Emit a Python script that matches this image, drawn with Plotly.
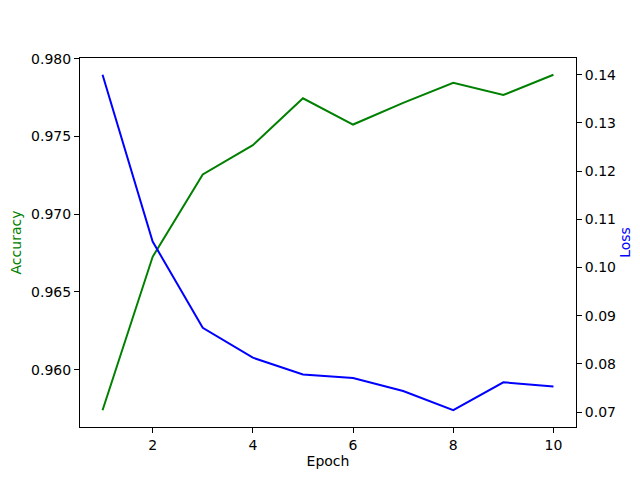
import plotly.graph_objects as go

epochs = [1, 2, 3, 4, 5, 6, 7, 8, 9, 10]
accuracy = [0.95739, 0.96726, 0.97256, 0.97444, 0.97746,
            0.97577, 0.97716, 0.97846, 0.97767, 0.97897]
loss = [0.1400, 0.1054, 0.0875, 0.0813, 0.0778,
        0.0771, 0.0744, 0.0704, 0.0762, 0.0753]

font = dict(family="DejaVu Sans", size=14, color="black")

fig = go.Figure()
fig.add_trace(go.Scatter(x=epochs, y=accuracy, mode="lines",
                         line=dict(color="green", width=2), yaxis="y"))
fig.add_trace(go.Scatter(x=epochs, y=loss, mode="lines",
                         line=dict(color="blue", width=2), yaxis="y2"))

axis_common = dict(showgrid=False, zeroline=False, showline=True,
                   linecolor="black", linewidth=1, ticks="outside",
                   ticklen=5, tickcolor="black", tickfont=font,
                   automargin=False)

# page body has an 8px margin, so the figure is sized to fit inside it
fig.update_layout(
    width=632, height=472,
    margin=dict(l=72, r=64, t=50, b=53),
    paper_bgcolor="white", plot_bgcolor="white",
    showlegend=False,
    font=font,
    xaxis=dict(range=[0.55, 10.45], tickvals=[2, 4, 6, 8, 10], mirror=True,
               title=dict(text="Epoch", font=font, standoff=4),
               **axis_common),
    yaxis=dict(range=[0.95631, 0.98005], dtick=0.005, tickformat=".3f",
               title=dict(text="Accuracy", font=dict(family="DejaVu Sans", size=14, color="green"), standoff=6),
               **axis_common),
    yaxis2=dict(range=[0.06692, 0.14348], dtick=0.01, tickformat=".2f",
                overlaying="y", side="right",
                title=dict(text="Loss", font=dict(family="DejaVu Sans", size=14, color="blue"), standoff=5),
                **axis_common),
)

fig.write_html("out.html")
